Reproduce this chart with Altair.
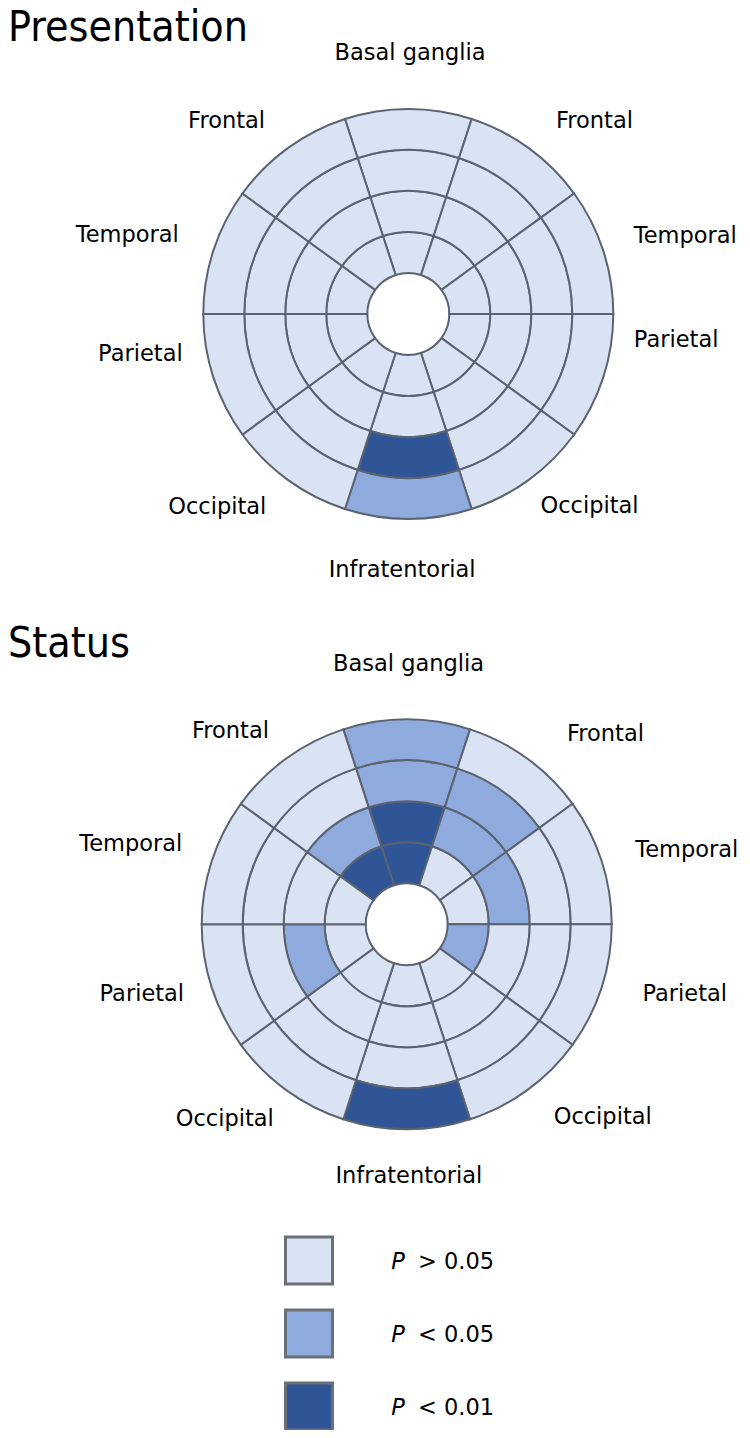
import math
import altair as alt
import pandas as pd

# ---------------- data ----------------
sector_names = ["Basal ganglia", "Frontal", "Temporal", "Parietal", "Occipital",
                "Infratentorial", "Occipital", "Parietal", "Temporal", "Frontal"]
ring_ids = [1, 2, 3, 4]
levels = ["P > 0.05", "P < 0.05", "P < 0.01"]
level_colors = ["#dae3f3", "#8faadc", "#2f5597"]

# significance code per sector (clockwise from top), rings inner -> outer
# 0: P > 0.05, 1: P < 0.05, 2: P < 0.01
presentation_levels = [
    [0, 0, 0, 0],  # Basal ganglia
    [0, 0, 0, 0],  # Frontal (right)
    [0, 0, 0, 0],  # Temporal (right)
    [0, 0, 0, 0],  # Parietal (right)
    [0, 0, 0, 0],  # Occipital (right)
    [0, 0, 2, 1],  # Infratentorial
    [0, 0, 0, 0],  # Occipital (left)
    [0, 0, 0, 0],  # Parietal (left)
    [0, 0, 0, 0],  # Temporal (left)
    [0, 0, 0, 0],  # Frontal (left)
]
status_levels = [
    [2, 2, 1, 1],  # Basal ganglia
    [0, 1, 1, 0],  # Frontal (right)
    [0, 1, 0, 0],  # Temporal (right)
    [1, 0, 0, 0],  # Parietal (right)
    [0, 0, 0, 0],  # Occipital (right)
    [0, 0, 0, 2],  # Infratentorial
    [0, 0, 0, 0],  # Occipital (left)
    [0, 1, 0, 0],  # Parietal (left)
    [0, 0, 0, 0],  # Temporal (left)
    [2, 1, 0, 0],  # Frontal (left)
]

# label placement (degrees clockwise from top, radius in ring units)
pres_label_theta = [0.4, 43.8, 74.0, 95.2, 136.5, 181.4, 225.0, 261.9, 286.0, 317.0]
pres_label_radius = [6.41, 6.56, 7.03, 6.56, 6.42, 6.20, 6.59, 6.60, 7.13, 6.50]
status_label_theta = [0.4, 46.0, 74.8, 103.7, 134.3, 179.5, 223.3, 255.6, 286.5, 317.9]
status_label_radius = [6.39, 6.74, 7.08, 6.98, 6.68, 6.10, 6.47, 6.67, 7.02, 6.41]

panel_titles = ["Presentation", "Status"]

# ---------------- build ----------------
SECTOR_DEG = 360 / len(sector_names)
theta_scale = alt.Scale(domain=[0, 360], range=[0, 2 * math.pi])
radius_scale = alt.Scale(type="linear", domain=[0, 5], range=[0, 205], nice=False, zero=True)
color_scale = alt.Scale(domain=levels, range=level_colors)

LABEL_FONT = "DejaVu Sans"
GRID = "#5c6370"


def panel(grid, lab_theta, lab_r, cx, cy):
    rows = []
    for s, ring_levels in enumerate(grid):
        for ring, lv in zip(ring_ids, ring_levels):
            rows.append({
                "sector": s,
                "ring": ring,
                "t0": s * SECTOR_DEG - SECTOR_DEG / 2,
                "t1": s * SECTOR_DEG + SECTOR_DEG / 2,
                "r0": ring,
                "r1": ring + 1,
                "level": levels[lv],
            })
    cells = pd.DataFrame(rows)
    arcs = alt.Chart(cells).mark_arc(stroke=GRID, strokeWidth=2).encode(
        theta=alt.Theta("t0:Q", scale=theta_scale, stack=False),
        theta2="t1:Q",
        radius=alt.Radius("r0:Q", scale=radius_scale),
        radius2="r1:Q",
        color=alt.Color("level:N", scale=color_scale, legend=None),
        x=alt.value(cx),
        y=alt.value(cy),
    )
    lab_df = pd.DataFrame({"name": sector_names, "lt": lab_theta, "lr": lab_r})
    labels = alt.Chart(lab_df).mark_text(
        font=LABEL_FONT, fontSize=22.5, align="center", baseline="middle", dy=1.5, color="#000000"
    ).encode(
        theta=alt.Theta("lt:Q", scale=theta_scale, stack=False),
        radius=alt.Radius("lr:Q", scale=radius_scale),
        text="name:N",
        x=alt.value(cx),
        y=alt.value(cy),
    )
    return [arcs, labels]


def title(txt, baseline_y):
    return alt.Chart(pd.DataFrame({"t": [txt]})).mark_text(
        font="DejaVu Sans Condensed, DejaVu Sans", fontSize=42.5, align="left",
        baseline="alphabetic", color="#000000"
    ).encode(x=alt.value(0), y=alt.value(baseline_y), text="t:N")


legend_df = pd.DataFrame({
    "level": levels,
    "p": [lv.split(" ", 1)[0] for lv in levels],
    "rest": [lv.split(" ", 1)[1] for lv in levels],
})
legend_y = alt.Y("level:N", scale=alt.Scale(type="point", domain=levels,
                                             range=[1252.5, 1398.5], padding=0), axis=None)
leg_squares = alt.Chart(legend_df).mark_square(
    size=2209, stroke="#6b7078", strokeWidth=3, opacity=1
).encode(
    x=alt.value(301), y=legend_y,
    color=alt.Color("level:N", scale=color_scale, legend=None),
)
leg_p = alt.Chart(legend_df).mark_text(
    font=LABEL_FONT, fontStyle="italic", fontSize=22.5, align="center",
    baseline="middle", dy=1.5, color="#000000"
).encode(x=alt.value(390), y=legend_y, text="p:N")
leg_rest = alt.Chart(legend_df).mark_text(
    font=LABEL_FONT, fontSize=22.5, align="left", baseline="middle", dy=1.5, color="#000000"
).encode(x=alt.value(410), y=legend_y, text="rest:N")

layers = []
layers += panel(presentation_levels, pres_label_theta, pres_label_radius, 400.3, 306)
layers += panel(status_levels, status_label_theta, status_label_radius, 398.7, 916.3)
layers += [title(panel_titles[0], 32.5), title(panel_titles[1], 649)]
layers += [leg_squares, leg_p, leg_rest]

chart = alt.layer(*layers).properties(
    width=734, height=1422, padding=0,
    autosize=alt.AutoSizeParams(type="none"),
).configure_view(stroke=None)

chart.save("out.html", embed_options={"renderer": "svg", "actions": False})
